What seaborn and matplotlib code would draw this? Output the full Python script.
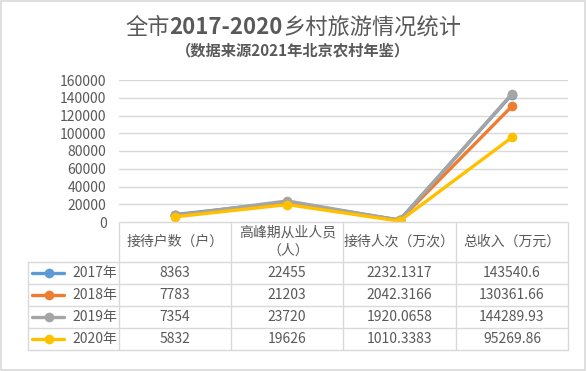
import numpy as np
import pandas as pd
import seaborn as sns
from matplotlib import pyplot as plt
from matplotlib.patches import Rectangle
from matplotlib.lines import Line2D

categories = ["接待户数（户）", "高峰期从业人员\n（人）", "接待人次（万次）", "总收入（万元）"]
years = ["2017年", "2018年", "2019年", "2020年"]
v2017 = [8363, 22455, 2232.1317, 143540.6]
v2018 = [7783, 21203, 2042.3166, 130361.66]
v2019 = [7354, 23720, 1920.0658, 144289.93]
v2020 = [5832, 19626, 1010.3383, 95269.86]
yticks = [0, 20000, 40000, 60000, 80000, 100000, 120000, 140000, 160000]

series = [v2017, v2018, v2019, v2020]
colors = ["#5B9BD5", "#ED7D31", "#A5A5A5", "#FFC000"]
W, H = 587, 371
text_c = "#595959"
grid_c = "#D9D9D9"

rows = []
for yr, vals in zip(years, series):
    for i, v in enumerate(vals):
        rows.append({"year": yr, "pos": i, "value": v})
df = pd.DataFrame(rows)

sns.set_style("white")
plt.rcParams['font.family'] = ['Noto Sans CJK SC', 'DejaVu Sans']

fig = plt.figure(figsize=(W / 100, H / 100), dpi=100)


def fx(x):
    return x / W


def fy(y):
    return 1 - y / H


# plot area in pixel terms
L, R, T, B = 119, 568, 80, 222
ax = fig.add_axes([fx(L), fy(B), fx(R) - fx(L), fy(T) - fy(B)])
sns.lineplot(data=df, x="pos", y="value", hue="year", palette=colors, marker="o",
             markersize=7, markeredgewidth=0, linewidth=2.4, sort=False,
             legend=False, ax=ax)
ax.set_xlim(-0.5, 3.5)
ax.set_ylim(0, 160000)
ax.set_yticks(yticks)
ax.set_yticklabels([str(t) for t in yticks], fontsize=10, color=text_c)
ax.set_xticks([])
ax.set_xlabel("")
ax.set_ylabel("")
ax.tick_params(axis="y", length=0, pad=9)
for t in yticks[1:]:
    ax.axhline(t, color=grid_c, lw=1, zorder=0)
for s in ax.spines.values():
    s.set_visible(False)
ax.patch.set_alpha(0)

# data table below the plot
col_x = [L, 231, 343, 456, R]
row_y = [B, 262, 284, 306, 328, 350]
leg_l = 28
kw = dict(color=grid_c, lw=1, transform=fig.transFigure)
fig.add_artist(Line2D([fx(L), fx(R)], [fy(B), fy(B)], **kw))
for y in row_y[1:]:
    fig.add_artist(Line2D([fx(leg_l), fx(R)], [fy(y), fy(y)], **kw))
for x in col_x:
    fig.add_artist(Line2D([fx(x), fx(x)], [fy(B), fy(row_y[-1])], **kw))
fig.add_artist(Line2D([fx(leg_l), fx(leg_l)], [fy(row_y[1]), fy(row_y[-1])], **kw))

for i, c in enumerate(categories):
    cx = (col_x[i] + col_x[i + 1]) / 2
    lines = c.split("\n")
    if len(lines) == 1:
        fig.text(fx(cx), fy(242), c, ha="center", va="center",
                 fontsize=10, color=text_c)
    else:
        for k, ln in enumerate(lines):
            fig.text(fx(cx + 1), fy(232 + 19 * k), ln, ha="center", va="center",
                     fontsize=10, color=text_c)

for r, (yr, vals, col) in enumerate(zip(years, series, colors)):
    cy = (row_y[r + 1] + row_y[r + 2]) / 2
    fig.add_artist(Line2D([fx(32), fx(49), fx(64)], [fy(cy)] * 3, color=col, lw=2.4,
                          marker="o", markevery=[1], markersize=7,
                          markeredgewidth=0, transform=fig.transFigure))
    fig.text(fx(72), fy(cy), yr, ha="left", va="center", fontsize=10, color=text_c)
    for i, v in enumerate(vals):
        cx = (col_x[i] + col_x[i + 1]) / 2
        fig.text(fx(cx), fy(cy), str(v), ha="center", va="center",
                 fontsize=10, color=text_c)

# title, mixed weights, chained pieces
t1 = fig.text(fx(130), fy(28), "全市", fontsize=16, color=text_c,
              ha="left", va="center")
t2 = ax.annotate("2017-2020", xy=(1, 0.5), xycoords=t1, fontsize=16,
                 fontweight="bold", color=text_c, ha="left", va="center",
                 annotation_clip=False)
t3 = ax.annotate("乡村旅游情况统计", xy=(1, 0.5), xycoords=t2, fontsize=16,
                 color=text_c, ha="left", va="center", annotation_clip=False)
fig.canvas.draw()
rend = fig.canvas.get_renderer()
x_left = t1.get_window_extent(rend).x0
x_right = t3.get_window_extent(rend).x1
shift = 293 - (x_left + x_right) / 2
t1.set_x(fx(130 + shift))
fig.text(fx(293), fy(50), "（数据来源2021年北京农村年鉴）", ha="center", va="center",
         fontsize=11, fontweight="bold", color=text_c)

fig.add_artist(Rectangle((0.002, 0.003), 0.995, 0.993, fill=False, edgecolor=grid_c,
                         lw=1.2, transform=fig.transFigure))

fig.savefig("out.png", dpi=100)
